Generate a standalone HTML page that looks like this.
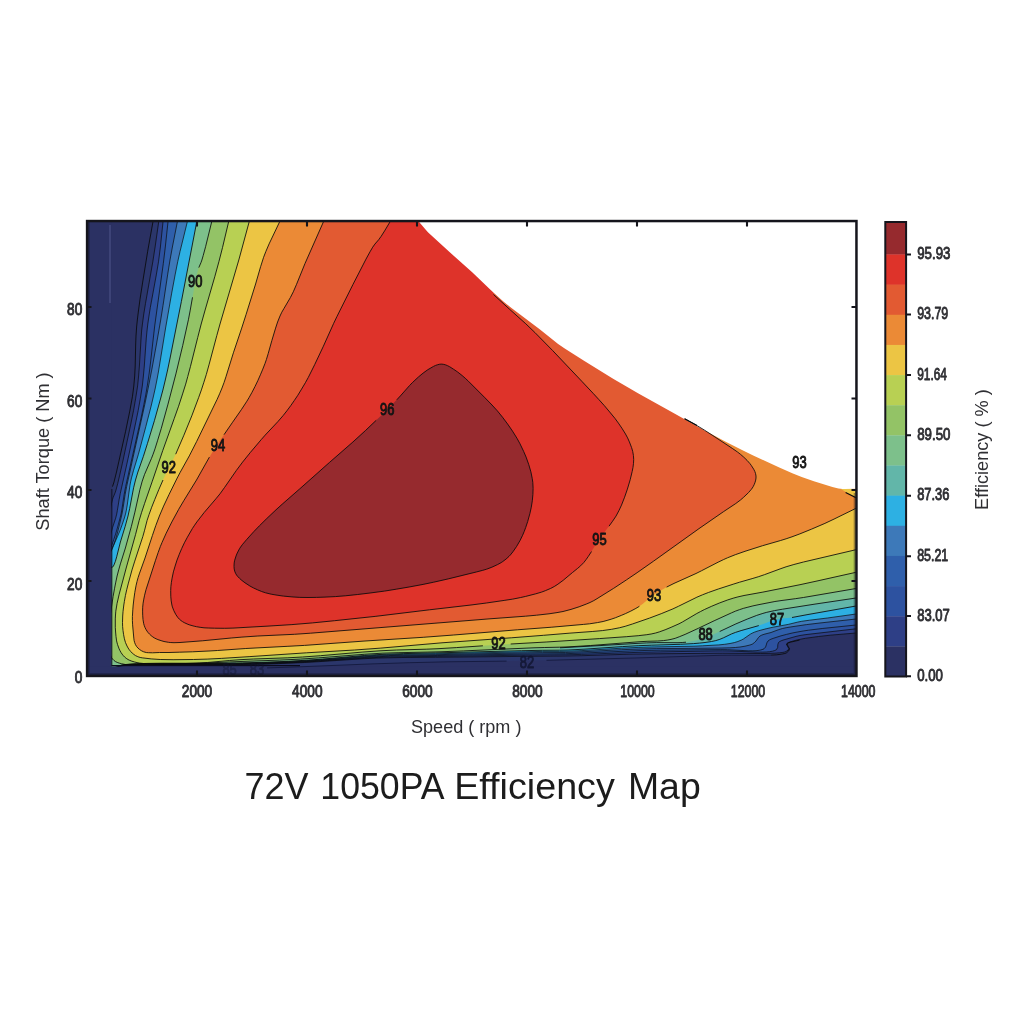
<!DOCTYPE html>
<html lang="en"><head><meta charset="utf-8"><title>72V 1050PA Efficiency Map</title>
<style>html,body{margin:0;padding:0;background:#fff}body{width:1024px;height:1024px;overflow:hidden}svg{display:block}</style>
</head><body>
<svg width="1024" height="1024" viewBox="0 0 1024 1024" font-family="'Liberation Sans', sans-serif">
<rect width="1024" height="1024" fill="#ffffff"/>
<defs><clipPath id="plot"><rect x="87" y="221" width="769" height="455"/></clipPath><clipPath id="data"><rect x="111.3" y="221" width="744.7" height="445.29999999999995"/></clipPath></defs>
<g clip-path="url(#plot)">
<rect x="87" y="221" width="769" height="455" fill="#2b3163"/>
<path d="M153.1 221.0L147.7 251.2 142.9 280.8 140.0 299.3 137.8 315.9 136.7 326.0 136.0 336.0 135.7 344.0 135.2 366.0 134.7 376.0 134.0 384.0 133.1 392.1 131.8 400.4 130.3 408.9 126.4 427.8 117.0 470.0 114.0 482.0 112.5 486.6 111.8 489.5 111.4 491.7 110.6 497.3 109.7 504.3 107.7 523.4 106.0 544.5 104.9 562.0 104.2 580.6 103.8 600.0 103.7 620.7 104.0 642.6 103.7 647.5 102.6 656.7 102.6 660.8 102.8 662.6 103.2 664.4 103.8 666.1 104.7 667.6 106.0 669.0 106.8 669.7 107.7 670.3 109.9 671.4 111.2 671.9 113.9 672.7 118.6 673.5 124.1 674.0 130.1 674.2 138.7 674.0 148.0 673.5 157.6 672.7 181.4 670.5 194.3 669.7 231.6 669.0 273.4 667.7 322.0 665.9 372.0 663.9 405.8 662.8 445.9 661.8 508.3 661.0 548.1 660.2 636.1 657.9 722.3 655.3 731.5 655.2 760.5 655.3 767.1 655.2 773.1 655.0 778.3 654.6 781.3 654.2 784.8 653.5 786.5 652.8 788.7 650.9 789.5 648.8 788.1 646.3 787.0 644.0 788.2 643.0 790.4 642.2 803.5 639.3 810.1 638.2 816.7 637.3 828.2 636.1 856.0 633.8 856.0 221.0Z" fill="#2b366b"/>
<path d="M158.8 221.0L155.1 247.0 152.8 261.8 145.5 303.4 143.8 313.8 142.7 322.0 141.7 330.0 141.1 338.0 139.4 366.0 138.6 376.0 137.6 386.0 135.7 398.2 133.5 410.7 131.0 423.1 122.4 463.3 119.5 476.0 117.7 483.6 116.0 490.0 115.3 492.3 113.1 497.6 112.5 499.5 111.5 503.3 110.7 507.7 109.6 514.6 107.7 528.7 106.4 542.1 105.3 555.6 104.7 565.7 104.2 577.9 103.8 593.0 103.7 610.2 103.7 626.3 104.0 642.6 103.5 655.4 103.4 659.9 103.7 663.8 104.0 665.5 104.5 666.9 105.1 668.1 106.0 669.0 107.3 669.6 108.7 669.8 110.3 669.5 112.1 669.0 118.6 666.7 121.2 666.0 125.2 665.5 132.0 665.1 143.9 664.7 157.9 664.6 229.0 664.9 240.0 664.8 257.3 664.4 278.7 663.6 304.4 662.5 318.4 661.7 364.2 658.7 376.1 658.1 388.3 657.8 401.9 657.5 435.6 657.3 530.7 656.3 565.6 656.0 581.7 655.7 629.6 654.2 653.9 653.8 700.3 653.4 722.3 653.2 760.3 653.5 768.9 653.4 774.6 653.2 779.5 652.8 782.2 652.5 784.4 652.1 786.0 651.5 788.1 650.1 788.8 648.4 787.4 646.2 786.3 644.0 787.5 642.9 789.7 642.0 797.3 639.9 801.2 639.1 805.4 638.3 818.5 636.5 830.3 635.2 856.0 633.0 856.0 221.0Z" fill="#2e3f86"/>
<path d="M163.1 221.0L160.4 247.0 158.5 261.8 156.3 274.9 150.3 307.6 149.0 315.9 147.8 324.0 147.1 330.0 146.3 338.0 144.3 366.0 143.4 376.0 142.3 386.0 140.4 398.2 138.2 410.5 134.8 426.9 128.1 458.4 120.3 493.4 119.1 499.7 117.4 510.3 116.7 514.1 115.7 518.1 112.5 527.7 108.4 542.4 106.5 550.6 105.7 555.2 105.0 560.0 104.5 564.9 104.0 572.2 103.7 580.3 103.5 588.9 103.4 611.2 104.0 642.6 103.5 655.4 103.4 659.9 103.7 663.9 104.0 665.5 104.5 666.9 105.1 668.1 106.0 669.0 107.3 669.6 108.7 669.8 110.3 669.5 112.1 668.9 118.6 666.5 121.2 665.9 125.2 665.3 133.5 664.8 145.8 664.4 160.0 664.3 229.0 664.6 240.0 664.4 259.3 663.9 280.6 663.2 304.4 662.1 320.5 661.1 364.2 658.1 378.1 657.4 390.3 657.0 405.7 656.7 437.8 656.4 532.4 655.1 565.6 654.8 581.7 654.4 621.0 652.9 640.0 652.3 664.1 651.8 718.0 650.9 722.5 650.9 729.5 651.0 756.1 652.1 762.4 652.1 766.2 652.0 769.6 651.7 772.5 651.2 774.8 650.5 776.5 649.6 777.7 647.4 777.8 644.7 778.5 642.5 779.9 641.4 781.8 640.5 784.0 639.8 796.0 636.4 800.0 635.5 805.9 634.6 856.0 628.8 856.0 221.0Z" fill="#2d52a0"/>
<path d="M168.1 221.0L165.3 247.0 163.3 263.6 154.7 326.0 150.6 362.0 149.1 374.0 147.6 384.0 145.9 394.1 143.9 404.4 141.3 416.9 125.7 486.3 124.2 494.3 121.8 510.0 121.1 514.0 120.1 517.9 117.4 528.0 115.6 534.1 113.7 539.8 111.8 545.0 110.9 547.0 107.3 553.6 106.4 555.4 105.7 557.5 105.0 560.0 104.3 564.0 103.8 568.9 103.4 574.4 103.1 580.5 103.0 589.3 103.0 598.5 103.1 610.1 104.0 642.6 103.4 657.8 103.5 662.0 103.7 663.9 104.0 665.5 104.5 667.0 105.1 668.1 106.0 669.0 107.3 669.6 108.7 669.7 110.3 669.4 118.6 666.4 121.2 665.7 125.2 665.1 133.5 664.6 145.8 664.2 160.0 664.0 214.4 664.3 230.9 664.2 242.3 664.0 263.3 663.4 284.4 662.6 306.4 661.5 320.5 660.6 364.2 657.5 378.1 656.7 390.3 656.2 403.8 655.9 437.8 655.5 530.7 654.0 565.6 653.7 581.7 653.1 629.6 651.0 644.0 650.5 660.3 650.2 720.3 649.6 727.4 649.7 748.2 650.8 752.3 650.8 756.0 650.7 759.2 650.3 760.6 650.0 763.0 649.3 764.0 648.8 765.6 647.0 766.3 644.9 766.9 642.8 768.0 641.0 769.5 639.9 771.2 639.1 773.1 638.4 780.8 635.9 786.5 634.4 792.8 632.9 797.5 632.0 803.2 631.0 808.5 630.2 822.2 628.5 856.0 625.0 856.0 221.0Z" fill="#2f5fab"/>
<path d="M177.5 221.0L172.4 247.0 170.0 260.0 167.6 274.9 163.0 305.6 160.7 320.0 156.5 344.0 152.1 368.0 148.2 388.0 144.8 404.4 126.7 486.3 125.2 494.2 123.1 507.9 122.0 513.9 119.6 524.2 117.4 533.0 115.6 539.4 113.7 545.2 111.8 550.0 110.7 552.0 109.5 553.4 107.0 556.1 105.9 557.7 105.0 560.0 104.7 561.1 103.9 565.0 103.3 569.8 103.0 575.4 102.7 581.6 102.6 588.3 102.7 597.6 102.9 607.1 104.0 640.0 104.0 645.2 103.4 657.8 103.5 662.0 103.7 663.9 104.0 665.5 104.5 667.0 105.1 668.1 106.0 669.0 107.3 669.6 108.7 669.7 110.3 669.4 118.6 666.3 121.2 665.5 124.0 665.1 127.7 664.7 138.5 664.1 149.7 663.9 164.4 663.8 227.0 663.9 238.3 663.8 251.1 663.4 278.7 662.5 304.4 661.2 320.5 660.2 366.2 656.7 378.1 656.0 390.3 655.5 403.8 655.2 435.6 654.7 527.2 652.9 542.5 652.6 565.6 652.5 580.0 651.9 621.7 649.7 640.0 649.0 656.7 648.6 688.9 648.4 721.9 648.0 729.9 647.8 735.3 647.5 740.0 647.0 745.0 646.2 749.2 645.2 751.0 644.7 752.5 644.0 754.4 642.6 756.0 641.0 758.4 637.6 760.0 636.0 761.8 635.1 764.0 634.3 771.0 632.5 778.5 629.7 782.4 628.5 786.2 627.7 790.3 627.0 806.5 624.6 819.9 623.0 856.0 619.0 856.0 221.0Z" fill="#3d79b9"/>
<path d="M187.5 221.0L180.0 251.6 177.7 261.8 175.1 274.9 171.7 293.1 165.6 328.0 158.4 372.0 156.9 380.0 155.3 388.0 153.5 396.0 151.1 406.2 145.8 426.7 138.4 454.3 133.6 470.2 131.5 477.9 130.6 481.9 129.9 485.7 127.4 504.0 126.4 510.1 125.5 514.1 124.4 518.0 122.3 524.3 120.0 530.6 117.4 536.7 114.9 542.3 111.8 548.8 110.6 550.9 107.0 555.6 105.9 557.5 105.0 560.0 104.2 563.7 103.6 568.4 103.2 573.8 102.9 579.8 102.7 588.6 102.9 607.3 104.0 642.6 103.4 657.8 103.5 662.0 103.7 663.9 104.0 665.6 104.5 667.0 105.1 668.1 106.0 669.0 107.3 669.6 108.7 669.7 110.3 669.3 118.6 666.1 121.2 665.4 124.0 664.9 126.4 664.6 136.8 664.0 147.7 663.6 162.2 663.5 229.0 663.5 240.0 663.4 261.3 662.7 284.4 661.8 306.4 660.7 322.6 659.5 364.2 656.2 376.1 655.4 388.3 654.8 403.8 654.4 435.6 653.8 525.4 651.8 542.5 651.4 559.6 651.4 568.0 651.2 581.9 650.6 621.6 648.2 638.1 647.4 654.9 646.9 693.9 646.2 702.5 645.8 718.8 644.9 724.7 644.3 730.0 643.5 734.3 642.6 737.9 641.5 741.5 640.0 743.4 639.0 750.6 634.0 752.5 633.0 754.4 632.2 758.4 630.8 766.8 628.6 773.1 627.2 788.3 624.4 797.7 622.1 801.7 621.3 809.6 620.2 827.5 618.0 856.0 614.0 856.0 221.0Z" fill="#2db0e3"/>
<path d="M196.9 221.0L181.4 301.4 170.1 358.0 167.6 370.0 165.3 380.0 162.9 390.0 160.2 400.0 154.4 420.7 147.4 443.7 143.3 456.6 137.9 472.0 135.5 480.0 133.6 487.8 129.7 508.4 128.0 516.0 125.2 526.3 120.4 542.0 116.7 556.8 115.4 561.3 114.0 564.9 113.3 566.2 112.6 567.1 111.8 567.5 110.5 566.8 109.0 564.9 107.5 562.5 106.2 560.6 105.0 560.0 104.7 560.2 104.1 561.3 103.6 563.1 103.2 565.6 102.7 570.4 102.5 576.4 102.4 583.2 102.5 593.2 102.7 603.7 104.0 640.0 104.0 645.2 103.4 657.8 103.5 662.1 103.7 663.9 104.0 665.6 104.5 667.0 105.1 668.1 106.0 669.0 107.3 669.6 108.7 669.6 110.3 669.3 118.6 666.0 121.2 665.2 124.0 664.7 126.4 664.4 136.7 663.7 147.7 663.4 162.2 663.2 214.4 663.3 230.9 663.2 246.8 662.8 269.2 662.1 288.3 661.3 308.4 660.1 322.6 659.1 364.2 655.5 376.1 654.7 386.2 654.2 403.8 653.6 435.6 652.9 521.6 650.7 542.5 650.3 559.6 650.2 568.0 650.0 584.0 649.2 622.3 646.6 638.2 645.7 651.3 645.2 682.0 644.2 697.7 643.3 703.2 642.7 711.6 641.5 715.8 640.6 718.0 640.0 721.8 638.5 731.6 633.9 735.5 632.4 741.1 630.6 758.8 625.6 771.1 621.1 775.0 619.9 777.0 619.4 781.5 618.6 790.1 617.8 794.0 617.2 805.3 615.0 856.0 606.0 856.0 221.0Z" fill="#62b6a9"/>
<path d="M196.9 221.0L181.4 301.4 170.1 358.0 167.6 370.0 165.3 380.0 162.9 390.0 160.2 400.0 154.4 420.7 147.4 443.7 143.3 456.6 137.9 472.0 135.5 480.0 133.6 487.8 129.7 508.4 128.0 516.0 125.2 526.3 120.4 542.0 116.7 556.8 115.4 561.3 114.0 564.9 113.3 566.2 112.6 567.1 111.8 567.5 110.5 566.8 109.0 564.9 107.5 562.5 106.2 560.6 105.0 560.0 104.7 560.2 104.1 561.3 103.6 563.1 103.2 565.6 102.7 570.4 102.5 576.4 102.4 583.2 102.5 593.2 102.7 603.7 104.0 640.0 104.0 645.2 103.4 657.8 103.5 662.1 103.7 663.9 104.0 665.6 104.5 667.0 105.1 668.1 106.0 669.0 107.3 669.6 108.7 669.6 110.3 669.3 118.6 666.0 121.2 665.2 124.0 664.7 126.4 664.4 136.7 663.7 147.7 663.4 162.2 663.2 214.4 663.3 230.9 663.2 249.0 662.7 273.0 661.9 290.3 661.2 308.4 660.1 322.6 659.1 362.1 655.7 374.2 654.8 384.2 654.3 403.8 653.6 435.6 652.9 521.6 650.7 542.5 650.3 559.6 650.2 560.0 647.8 600.0 645.6 635.0 643.5 646.6 642.9 656.8 642.6 675.8 642.7 680.1 642.6 684.1 642.4 690.6 641.6 694.9 640.7 701.1 639.2 706.9 637.3 710.6 635.8 734.0 624.7 741.5 621.4 750.9 617.5 756.7 615.4 762.9 613.4 766.8 612.3 774.5 610.6 782.5 609.2 815.0 604.1 856.0 598.0 856.0 221.0Z" fill="#7dc08b"/>
<path d="M211.9 221.0L205.7 246.3 203.2 255.6 201.9 260.0 201.1 262.3 198.8 267.6 198.0 270.0 197.0 274.1 194.8 284.6 189.3 315.4 187.1 325.9 183.1 343.6 179.4 359.7 175.4 376.0 171.8 390.0 166.9 408.3 162.9 422.7 159.4 434.6 156.1 445.5 153.9 452.0 152.3 456.3 149.9 462.1 146.1 470.8 143.9 476.1 142.6 480.0 141.5 483.8 139.0 493.8 134.5 514.1 130.3 530.3 125.4 548.0 119.8 565.9 117.6 574.0 115.4 584.1 113.1 596.5 109.2 622.0 108.4 628.4 108.0 634.4 108.0 640.0 108.6 647.3 109.4 651.8 110.0 653.9 110.7 655.8 111.5 657.5 112.5 659.0 113.9 660.4 115.5 661.6 117.2 662.4 119.2 663.1 124.0 664.3 128.1 664.9 133.1 665.3 138.7 665.4 149.2 665.2 173.7 664.2 195.8 663.5 240.0 661.5 277.8 660.1 296.2 659.3 316.4 658.1 364.2 654.3 374.2 653.6 384.2 653.1 398.1 652.7 427.1 652.1 440.0 651.8 463.6 650.9 534.0 647.8 544.8 647.5 559.6 647.2 568.0 646.9 590.6 645.5 640.0 641.7 647.1 641.3 657.6 641.0 663.4 640.6 667.2 640.1 671.0 639.4 675.2 638.3 679.2 636.8 685.1 634.4 698.6 628.2 714.1 620.8 731.4 612.9 735.3 611.2 739.4 609.7 743.3 608.4 747.1 607.4 752.9 605.9 759.0 604.6 774.9 601.5 781.0 600.6 795.3 598.7 803.4 597.5 856.0 588.5 856.0 221.0Z" fill="#93c366"/>
<path d="M228.8 221.0L222.5 247.6 218.9 261.7 214.9 276.3 205.1 310.1 201.2 324.0 197.7 337.6 190.4 366.7 186.2 382.2 182.6 393.9 178.6 406.2 174.2 418.6 162.8 450.4 152.1 481.8 144.6 503.4 141.0 514.4 139.2 520.4 135.1 536.3 126.2 568.0 120.2 590.2 118.7 596.1 117.4 601.6 116.1 609.3 115.5 615.0 115.3 618.9 115.3 623.0 115.6 632.0 116.3 638.7 117.1 642.9 117.6 644.7 119.1 648.8 120.0 650.7 121.0 652.5 122.1 654.1 123.3 655.6 124.6 657.0 126.2 658.3 128.0 659.5 129.8 660.4 131.9 661.2 134.3 661.9 137.0 662.6 141.3 663.3 146.4 663.8 152.1 664.1 160.5 664.2 173.9 663.9 197.2 663.1 207.4 662.5 229.4 660.5 240.0 659.7 253.4 659.0 287.8 657.8 302.5 657.0 318.4 655.8 358.0 652.4 376.1 651.0 392.5 650.2 430.1 649.0 448.1 648.1 498.2 644.7 542.1 642.3 605.5 638.2 632.4 636.3 638.2 635.7 646.8 634.7 651.1 634.0 653.3 633.6 657.4 632.5 663.1 630.5 669.1 628.2 675.1 625.6 680.8 622.8 686.1 619.9 695.0 614.6 698.7 612.5 706.1 608.8 713.8 605.4 721.7 602.1 727.8 599.9 733.8 598.0 737.9 596.9 744.0 595.5 762.9 592.1 800.0 584.7 817.0 581.0 856.0 572.3 856.0 221.0Z" fill="#b8d053"/>
<path d="M249.4 221.0L238.8 260.0 220.0 324.0 216.8 335.6 208.5 366.7 205.7 376.4 202.6 386.1 198.6 397.7 194.1 409.7 188.6 423.7 183.2 437.0 178.0 448.9 174.7 456.3 171.9 462.1 165.7 474.3 163.0 480.0 158.9 489.4 155.6 497.4 150.3 510.9 148.5 516.0 147.1 520.4 144.6 530.2 142.9 536.3 134.5 561.9 131.4 571.9 128.7 581.9 126.7 589.8 125.4 595.6 124.4 601.3 123.2 609.5 122.8 613.9 122.5 618.2 122.5 624.4 123.0 630.5 124.0 636.8 124.9 640.7 125.5 642.6 127.0 646.0 128.1 648.0 129.3 649.8 130.7 651.5 132.2 653.1 133.8 654.4 135.5 655.6 137.2 656.4 138.9 657.1 140.8 657.6 144.8 658.2 154.5 659.2 162.3 659.6 173.1 659.7 197.3 659.4 207.2 659.1 217.2 658.6 253.8 656.4 304.5 652.9 346.4 650.5 362.9 649.4 382.8 647.9 440.0 643.0 513.2 637.6 545.5 635.1 569.1 633.2 592.2 631.5 602.3 630.6 611.6 629.3 619.3 627.8 625.2 626.3 632.4 624.0 649.5 618.1 661.2 613.7 672.9 608.9 678.4 606.3 696.9 597.2 702.5 594.8 708.4 592.5 718.3 589.0 733.8 584.0 739.6 582.2 752.9 578.4 758.8 576.6 764.4 574.7 780.1 568.9 786.1 566.8 793.9 564.5 803.5 562.0 856.0 549.7 856.0 221.0Z" fill="#ecc544"/>
<path d="M280.0 221.0L269.1 243.9 265.8 251.6 263.6 257.3 260.6 266.7 255.6 284.0 246.1 314.4 241.7 328.1 233.4 352.8 226.0 376.6 224.1 382.4 222.0 388.0 219.6 393.8 217.1 399.4 196.7 441.4 189.3 455.9 180.2 472.3 177.2 478.0 169.0 494.6 163.6 506.1 159.4 516.0 155.8 525.5 152.4 535.5 145.0 558.0 139.9 572.0 138.1 577.6 136.5 583.6 135.6 588.0 134.8 592.4 133.4 603.0 132.6 612.1 132.4 618.6 132.5 622.8 132.7 626.8 133.8 638.1 134.1 640.5 134.7 642.7 135.5 644.7 136.6 646.5 138.0 648.1 139.6 649.5 141.4 650.7 143.4 651.7 145.0 652.2 146.7 652.6 150.6 652.8 159.5 652.5 169.0 652.5 179.2 652.2 207.1 651.1 217.4 650.5 245.8 648.5 290.0 646.2 310.5 645.0 363.0 641.1 416.8 637.7 447.4 635.5 515.0 630.0 555.6 626.9 587.6 624.0 593.5 623.3 599.3 622.3 603.1 621.5 607.1 620.4 611.2 619.2 615.3 617.8 623.3 614.6 630.8 611.1 635.9 608.4 639.4 606.3 642.9 603.8 650.6 597.3 653.8 595.0 659.2 591.5 664.6 588.2 668.8 586.0 674.0 583.4 691.9 575.4 697.8 572.6 716.2 563.1 725.6 558.6 729.4 557.0 735.3 554.7 745.0 551.3 762.6 545.7 780.3 540.6 786.1 538.8 792.0 536.8 799.8 533.9 811.4 529.2 824.9 523.4 834.0 519.1 856.0 508.3 856.0 221.0Z" fill="#eb8a36"/>
<path d="M323.8 221.0L305.0 263.5 296.4 284.7 293.3 291.8 290.4 297.5 283.9 308.6 281.8 312.2 280.0 316.0 279.2 318.0 277.6 322.0 275.6 328.1 271.4 342.2 267.7 355.6 265.7 361.5 263.6 367.2 260.4 374.8 257.8 380.7 255.0 386.5 250.0 396.0 248.0 399.5 244.8 404.6 241.4 409.6 232.2 422.8 219.3 441.6 212.5 452.0 208.4 458.9 196.5 480.0 180.7 505.8 173.8 518.3 169.9 525.7 167.1 531.3 164.5 536.9 162.0 542.5 160.4 546.4 158.2 552.4 155.5 560.3 147.2 585.8 145.5 591.5 144.6 595.2 143.8 599.1 143.1 603.2 142.6 609.1 142.7 615.2 143.0 619.5 143.3 621.6 143.7 623.7 144.3 625.7 145.0 627.5 145.9 629.3 147.0 631.1 148.2 632.7 149.6 634.2 151.1 635.6 152.8 636.9 154.3 637.9 156.1 638.8 157.9 639.6 161.9 640.9 164.0 641.5 168.4 642.3 170.2 642.5 174.0 642.7 180.0 642.5 200.5 641.0 233.4 637.8 245.9 636.8 259.8 635.9 294.3 634.3 314.5 632.9 363.0 628.9 490.0 618.8 527.4 616.0 538.3 615.0 551.1 613.5 559.0 612.3 565.0 611.0 571.0 609.4 577.1 607.5 584.9 604.7 590.0 602.5 592.0 601.5 595.4 599.7 608.5 591.5 624.7 581.0 640.4 570.5 666.7 551.8 698.9 528.7 723.3 511.8 735.8 503.5 740.6 499.9 743.7 497.2 747.0 494.2 749.9 491.1 751.2 489.5 752.3 488.0 753.3 486.4 754.3 484.3 755.1 482.2 755.7 480.1 756.0 478.0 756.0 476.0 755.6 473.7 754.8 471.4 753.7 469.2 751.2 465.3 748.6 462.0 747.1 460.4 743.8 457.2 740.6 454.4 735.8 450.8 712.9 435.6 704.3 430.0 697.3 425.8 684.6 418.7 700.0 221.0Z" fill="#e25a32"/>
<path d="M390.5 221.0L384.6 230.9 381.1 236.4 378.7 239.7 374.9 244.1 372.7 247.2 370.0 251.8 366.0 259.1 352.9 284.6 337.0 316.4 333.7 323.3 323.4 346.2 314.7 364.6 311.0 372.0 308.3 377.4 305.4 382.7 298.9 393.5 295.5 398.8 291.9 403.9 288.2 409.1 284.4 414.0 281.8 417.1 277.8 421.7 265.2 435.1 261.3 439.5 254.4 447.6 247.8 455.6 242.6 462.1 237.6 468.7 224.6 487.4 220.0 493.8 214.6 500.4 205.3 511.1 198.0 520.4 195.7 523.5 193.4 527.0 190.4 531.8 187.4 537.2 184.4 542.8 182.6 546.6 179.3 554.2 177.0 560.1 175.7 564.1 173.4 571.9 172.5 575.9 171.7 580.2 171.1 584.3 170.8 588.5 170.7 592.5 170.8 596.7 171.2 600.9 171.5 603.0 172.4 606.9 173.0 608.8 174.7 612.5 175.7 614.3 176.8 616.0 178.0 617.7 179.4 619.2 180.9 620.5 182.5 621.6 184.2 622.6 186.0 623.5 187.9 624.3 192.1 625.6 198.2 627.0 204.0 627.8 212.5 628.2 226.9 628.3 232.9 628.1 263.8 626.4 283.2 625.2 298.3 624.1 312.5 622.9 328.6 621.4 367.0 617.3 387.2 614.9 429.5 609.8 469.0 605.2 486.4 603.0 506.9 600.0 516.6 598.4 525.7 596.4 535.8 593.8 541.6 592.1 547.2 590.0 552.5 587.5 556.2 585.4 559.7 582.9 563.2 580.3 572.5 572.5 577.6 568.4 580.6 565.8 583.8 562.5 587.1 558.2 590.4 553.3 595.9 544.3 599.4 539.0 602.9 534.2 610.2 524.6 613.8 519.6 616.0 516.1 618.0 512.5 620.6 507.0 623.1 501.2 625.4 495.1 628.0 487.2 630.2 479.7 631.7 473.6 632.6 469.3 633.3 465.3 633.6 461.3 633.7 459.4 633.4 455.4 633.1 453.4 632.2 449.5 630.9 445.7 628.5 439.9 626.6 436.0 623.1 430.2 619.5 424.7 616.1 419.9 611.1 413.6 605.7 407.2 600.3 401.1 583.2 382.8 554.0 352.0 536.4 334.0 530.3 328.1 525.8 323.8 509.3 309.0 493.5 294.5 500.0 221.0Z" fill="#de332a"/>
<path d="M441.9 364.1L443.8 364.4 445.7 364.9 447.6 365.7 449.6 366.7 453.5 369.2 457.5 371.9 460.5 374.2 465.2 378.2 470.0 382.7 486.4 399.2 492.0 405.0 497.4 410.9 501.2 415.6 506.4 422.3 511.3 429.3 514.8 434.7 518.0 440.1 520.9 445.6 523.6 451.3 526.1 457.1 528.2 462.8 530.0 468.4 531.4 474.1 532.2 478.3 532.8 482.3 533.1 486.3 533.0 492.6 532.8 496.6 532.0 502.9 530.9 509.3 529.4 515.6 527.7 521.5 525.7 527.5 523.4 533.4 520.9 538.9 518.9 542.5 516.7 546.3 513.0 551.7 510.4 554.9 509.0 556.4 506.0 559.1 502.8 561.5 501.2 562.6 497.7 564.5 493.9 566.3 490.2 567.9 484.7 569.8 476.7 571.9 450.2 578.4 437.9 581.3 423.1 584.4 405.0 587.8 394.8 589.5 384.5 591.1 374.2 592.5 361.8 594.0 351.5 595.2 343.3 595.9 335.3 596.6 327.2 597.0 314.3 597.5 308.0 597.5 301.8 597.4 291.9 596.9 281.3 595.8 273.1 594.6 269.3 593.7 265.5 592.8 259.6 590.7 253.6 588.0 249.9 586.0 246.5 583.9 243.1 581.4 241.2 579.9 239.5 578.3 237.9 576.7 236.6 575.1 235.6 573.4 234.7 571.2 234.2 568.9 234.0 566.5 234.1 564.0 234.3 562.1 235.3 558.1 236.0 556.1 237.7 552.0 238.8 550.0 240.9 546.5 242.2 544.8 245.0 541.4 255.1 530.2 259.3 525.9 265.3 520.0 274.6 511.1 280.6 505.6 299.7 488.9 329.4 462.5 351.4 443.3 368.5 427.6 380.7 416.0 392.6 404.1 399.6 396.8 410.9 384.1 415.3 379.8 421.5 374.3 424.7 371.8 427.8 369.7 433.5 366.4 435.6 365.4 437.7 364.7 439.8 364.2Z" fill="#962a2e"/>
<path d="M840.5 488.8H856V498Z" fill="#ecc544"/>
<rect x="87" y="221" width="24.799999999999997" height="455" fill="#2b3163"/>
<rect x="87" y="666.3" width="769" height="9.700000000000045" fill="#2b3163"/>
<rect x="109.6" y="225" width="0.8" height="78" fill="#5a6096"/>
<path d="M418.3 221.0L425.3 229.3 428.2 232.4 431.2 235.2 448.7 251.3 472.2 272.3 476.9 276.7 489.4 288.8 497.2 296.0 503.4 301.5 506.7 304.2 511.8 308.2 540.0 329.4 553.1 340.1 558.1 344.0 565.1 348.8 584.8 361.2 613.1 378.7 627.3 387.1 638.0 393.3 675.3 414.1 704.7 430.6 725.2 441.5 742.0 450.1 753.2 455.4 779.3 467.6 792.3 473.2 801.7 476.9 813.9 481.2 832.4 487.0 836.4 488.1 838.5 488.5 842.7 489.0 844.9 489.1 856.0 488.8 856.0 221.0Z" fill="#ffffff"/>
<path d="M267.1 667.9L299.7 666.8 372.0 663.9 409.7 662.7 447.9 661.8 506.6 661.1 M546.5 660.3L638.1 657.9 720.1 655.3 731.5 655.2 760.5 655.3 771.2 655.1" fill="none" stroke="#0c1030" stroke-opacity="0.75" stroke-width="0.9"/>
<g clip-path="url(#data)" fill="none" stroke="#0a0a0a" stroke-linejoin="round">
<path d="M196.9 221.0L181.4 301.4 170.1 358.0 167.6 370.0 165.3 380.0 162.9 390.0 160.2 400.0 154.4 420.7 147.4 443.7 143.3 456.6 137.9 472.0 135.5 480.0 133.6 487.8 129.7 508.4 128.0 516.0 125.2 526.3 120.4 542.0 116.7 556.8 115.4 561.3 114.0 564.9 113.3 566.2 112.6 567.1 111.8 567.5 110.5 566.8 109.0 564.9 107.5 562.5 106.2 560.6 105.0 560.0 104.7 560.2 104.1 561.3 103.6 563.1 103.2 565.6 102.7 570.4 102.5 576.4 102.4 583.2 102.5 593.2 102.7 603.7 104.0 640.0 104.0 645.2 103.5 655.4 103.4 660.0 103.7 663.9 104.0 665.6 104.5 667.0 105.1 668.1 106.0 669.0 107.3 669.6 108.7 669.6 110.3 669.3 118.6 666.0 121.2 665.2 124.0 664.7 129.0 664.2 136.7 663.7 147.7 663.4 162.2 663.2 214.4 663.3 230.9 663.2 242.3 662.9 267.2 662.2 288.3 661.3 308.4 660.1 322.6 659.1 364.2 655.5 376.1 654.7 386.2 654.2 403.8 653.6 435.6 652.9 521.6 650.7 542.5 650.3 559.6 650.2 568.0 650.0 584.0 649.2 622.3 646.6 638.2 645.7 651.3 645.2 680.3 644.3 693.7 643.6 699.5 643.1 705.0 642.5 711.6 641.5 715.8 640.6 719.9 639.3 723.7 637.7 731.6 633.9 735.5 632.4 741.1 630.6 758.8 625.6 M792.0 617.5L807.0 614.7 856.0 606.0 M211.9 221.0L205.7 246.3 203.2 255.6 201.9 260.0 201.1 262.3 198.8 267.6 M192.5 297.3L190.1 310.9 188.4 319.8 182.7 345.6 175.9 373.9 168.0 404.1 161.2 428.7 157.7 440.2 155.0 448.8 153.1 454.2 151.5 458.3 144.6 474.3 143.3 478.0 142.0 481.9 139.9 489.7 134.9 512.1 131.4 526.3 125.4 548.0 120.4 563.9 118.7 569.9 117.1 576.0 115.8 582.1 114.6 588.2 113.1 596.5 109.2 622.0 108.2 630.4 108.0 634.4 107.9 638.2 108.4 644.9 109.0 649.6 109.4 651.8 110.0 653.9 110.7 655.8 111.5 657.5 112.5 659.0 113.9 660.4 115.5 661.6 117.2 662.4 119.2 663.1 121.4 663.7 126.7 664.8 131.4 665.2 136.8 665.4 142.8 665.4 149.2 665.2 173.7 664.2 195.8 663.5 238.0 661.6 279.8 660.1 300.4 659.1 318.4 657.9 364.2 654.3 382.1 653.2 398.1 652.7 427.1 652.1 440.0 651.8 463.6 650.9 534.0 647.8 544.8 647.5 559.6 647.2 568.0 646.9 590.6 645.5 640.0 641.7 647.1 641.3 657.6 641.0 663.4 640.6 667.2 640.1 671.0 639.4 675.2 638.3 679.2 636.8 685.1 634.4 698.6 628.2 714.1 620.8 731.4 612.9 735.3 611.2 739.4 609.7 743.3 608.4 747.1 607.4 752.9 605.9 759.0 604.6 774.9 601.5 781.0 600.6 795.3 598.7 803.4 597.5 856.0 588.5 M560.0 647.8L600.0 645.6 635.0 643.5 646.6 642.9 656.8 642.6 678.0 642.7 682.2 642.5 686.0 642.2 M719.7 631.5L735.9 623.9 747.2 619.1 756.7 615.4 762.9 613.4 766.8 612.3 774.5 610.6 782.5 609.2 815.0 604.1 856.0 598.0 M228.8 221.0L222.5 247.6 218.9 261.7 214.9 276.3 205.1 310.1 201.2 324.0 197.7 337.6 190.4 366.7 187.8 376.4 185.7 384.1 182.6 393.9 178.6 406.2 174.2 418.6 162.8 450.4 152.1 481.8 144.6 503.4 141.5 512.7 139.2 520.4 135.5 534.7 126.2 568.0 119.2 594.2 117.1 603.3 115.8 611.2 115.5 615.0 115.3 618.9 115.3 627.4 115.6 632.0 116.0 636.5 116.6 640.9 117.1 642.9 117.6 644.7 119.1 648.8 120.0 650.7 121.0 652.5 122.1 654.1 123.3 655.6 124.6 657.0 126.2 658.3 128.0 659.5 129.8 660.4 131.9 661.2 134.3 661.9 137.0 662.6 139.7 663.1 146.4 663.8 156.2 664.1 167.2 664.1 180.6 663.7 199.3 663.0 207.4 662.5 229.4 660.5 240.0 659.7 253.4 659.0 287.8 657.8 302.5 657.0 320.5 655.7 362.1 652.1 380.0 650.8 396.5 650.0 426.2 649.2 438.0 648.7 456.3 647.6 482.9 645.8 M510.7 644.0L546.2 642.0 599.3 638.6 626.3 636.7 638.2 635.7 646.8 634.7 651.1 634.0 655.6 633.0 659.3 631.9 665.1 629.8 671.1 627.3 679.0 623.8 682.6 621.9 696.8 613.5 700.6 611.5 704.3 609.6 711.8 606.2 719.7 602.9 727.8 599.9 733.8 598.0 737.9 596.9 744.0 595.5 762.9 592.1 800.0 584.7 817.0 581.0 856.0 572.3 M249.4 221.0L238.8 260.0 220.0 324.0 216.8 335.6 209.0 364.8 206.3 374.5 203.9 382.2 201.4 389.9 198.6 397.7 191.8 415.8 183.9 435.2 175.7 454.2 M163.0 480.0L158.9 489.4 154.8 499.4 151.7 507.2 149.1 514.4 147.1 520.4 144.6 530.2 142.9 536.3 134.5 561.9 132.0 569.9 128.2 583.9 126.7 589.8 125.4 595.6 124.4 601.3 123.8 605.0 123.0 611.7 122.7 616.0 122.5 622.4 122.6 626.4 123.0 630.5 123.6 634.7 124.4 638.8 125.5 642.6 127.0 646.0 128.1 648.0 129.3 649.8 130.7 651.5 132.2 653.1 133.8 654.4 135.5 655.6 137.2 656.4 138.9 657.1 140.8 657.6 142.7 657.9 151.2 658.9 160.2 659.5 173.1 659.7 193.4 659.5 207.2 659.1 221.3 658.4 249.9 656.6 306.5 652.8 354.6 650.0 380.8 648.1 442.0 642.8 511.3 637.8 543.6 635.3 569.1 633.2 592.2 631.5 602.3 630.6 611.6 629.3 619.3 627.8 625.2 626.3 632.4 624.0 649.5 618.1 661.2 613.7 672.9 608.9 678.4 606.3 696.9 597.2 702.5 594.8 708.4 592.5 718.3 589.0 733.8 584.0 739.6 582.2 752.9 578.4 758.8 576.6 764.4 574.7 780.1 568.9 786.1 566.8 793.9 564.5 803.5 562.0 856.0 549.7 M280.0 221.0L269.1 243.9 265.8 251.6 263.6 257.3 260.6 266.7 255.6 284.0 246.1 314.4 241.7 328.1 233.4 352.8 226.0 376.6 224.1 382.4 222.0 388.0 219.6 393.8 217.1 399.4 196.7 441.4 189.3 455.9 180.2 472.3 177.2 478.0 169.0 494.6 163.6 506.1 159.4 516.0 155.8 525.5 152.4 535.5 145.0 558.0 139.3 573.9 138.1 577.6 137.0 581.5 136.0 585.8 134.8 592.4 133.9 598.9 133.2 605.0 132.8 609.8 132.4 616.5 132.4 620.6 132.6 624.8 133.8 638.1 134.1 640.5 134.7 642.7 135.5 644.7 136.6 646.5 138.0 648.1 139.6 649.5 141.4 650.7 143.4 651.7 145.0 652.2 146.7 652.6 148.6 652.7 152.6 652.8 159.5 652.5 169.0 652.5 179.2 652.2 192.3 651.8 209.0 651.0 217.4 650.5 245.8 648.5 287.9 646.3 304.5 645.4 365.0 641.0 423.2 637.3 453.7 635.0 517.3 629.8 551.8 627.2 583.6 624.4 589.6 623.8 597.4 622.6 603.1 621.5 607.1 620.4 611.2 619.2 615.3 617.8 621.3 615.4 625.3 613.7 630.8 611.1 635.9 608.4 639.4 606.3 M666.6 587.1L674.0 583.4 696.0 573.5 701.4 570.8 718.1 562.2 723.7 559.5 727.5 557.8 735.3 554.7 745.0 551.3 762.6 545.7 780.3 540.6 786.1 538.8 792.0 536.8 799.8 533.9 811.4 529.2 824.9 523.4 834.0 519.1 856.0 508.3 M323.8 221.0L305.0 263.5 296.4 284.7 293.3 291.8 290.4 297.5 283.9 308.6 281.8 312.2 280.0 316.0 279.2 318.0 277.6 322.0 275.6 328.1 271.9 340.4 268.2 353.6 266.4 359.5 265.0 363.5 262.8 369.1 260.4 374.8 257.8 380.7 255.0 386.5 252.0 392.3 249.0 397.7 246.9 401.2 241.4 409.6 232.2 422.8 224.0 434.7 M209.4 457.1L196.5 480.0 183.9 500.5 178.7 509.3 171.8 522.0 166.2 533.2 162.0 542.5 160.4 546.4 158.2 552.4 155.5 560.3 146.0 589.7 144.6 595.2 143.8 599.1 143.1 603.2 142.7 607.2 142.6 611.1 142.7 615.2 143.0 619.5 143.7 623.7 144.3 625.7 145.0 627.5 145.9 629.3 147.0 631.1 148.2 632.7 149.6 634.2 151.1 635.6 152.8 636.9 154.3 637.9 156.1 638.8 157.9 639.6 161.9 640.9 164.0 641.5 168.4 642.3 170.2 642.5 174.0 642.7 180.0 642.5 202.3 640.8 231.2 638.0 241.9 637.1 257.8 636.0 294.3 634.3 310.5 633.2 490.0 618.8 525.5 616.2 536.6 615.2 549.0 613.8 557.0 612.6 563.0 611.5 571.0 609.4 579.1 606.8 586.7 603.9 590.0 602.5 593.8 600.6 597.0 598.7 613.7 588.3 626.6 579.8 637.1 572.7 653.5 561.2 698.9 528.7 723.3 511.8 735.8 503.5 740.6 499.9 743.7 497.2 748.5 492.6 751.2 489.5 752.3 488.0 753.3 486.4 754.3 484.3 755.1 482.2 755.7 480.1 756.0 478.0 756.0 476.0 755.6 473.7 754.8 471.4 753.7 469.2 751.2 465.3 750.0 463.7 747.1 460.4 743.8 457.2 740.6 454.4 737.5 452.0 732.3 448.4 712.9 435.6 704.3 430.0 697.3 425.8 684.6 418.7 M390.5 221.0L384.6 230.9 381.1 236.4 378.7 239.7 374.9 244.1 372.7 247.2 370.0 251.8 366.0 259.1 352.9 284.6 337.0 316.4 333.7 323.3 323.4 346.2 314.7 364.6 311.0 372.0 308.3 377.4 305.4 382.7 301.1 389.9 297.8 395.3 294.3 400.5 290.7 405.7 286.9 410.8 283.1 415.6 277.8 421.7 265.2 435.1 261.3 439.5 250.4 452.4 242.6 462.1 236.4 470.4 224.6 487.4 220.0 493.8 215.9 498.8 204.1 512.6 196.9 521.9 194.6 525.2 192.4 528.5 187.4 537.2 184.4 542.8 181.7 548.5 179.3 554.2 177.0 560.1 175.1 566.1 173.4 571.9 172.1 578.1 171.4 582.3 170.9 586.4 170.7 590.5 170.8 596.7 171.2 600.9 171.9 605.0 172.4 606.9 173.8 610.6 175.7 614.3 176.8 616.0 178.0 617.7 179.4 619.2 180.9 620.5 182.5 621.6 184.2 622.6 187.9 624.3 189.9 625.0 194.2 626.2 196.5 626.7 200.1 627.3 204.0 627.8 208.2 628.0 214.6 628.2 224.6 628.3 232.9 628.1 268.0 626.1 291.9 624.6 312.5 622.9 334.6 620.7 375.1 616.4 429.5 609.8 471.0 605.0 486.4 603.0 504.9 600.3 512.8 599.1 520.3 597.6 525.7 596.4 535.8 593.8 541.6 592.1 545.3 590.7 550.7 588.4 554.3 586.5 557.9 584.2 563.2 580.3 572.5 572.5 577.6 568.4 580.6 565.8 583.8 562.5 586.0 559.7 588.2 556.6 591.5 551.5 M609.0 526.2L612.6 521.2 616.0 516.1 618.9 510.7 621.5 505.1 624.6 497.2 627.4 489.1 630.2 479.7 632.2 471.4 633.0 467.3 633.5 463.3 633.7 459.4 633.4 455.4 632.7 451.4 631.6 447.6 629.4 441.9 627.6 437.9 625.5 434.0 621.9 428.2 618.4 423.1 614.9 418.3 609.7 412.0 604.4 405.7 598.9 399.6 593.1 393.3 581.8 381.3 552.6 350.5 534.9 332.5 525.8 323.8 509.3 309.0 493.5 294.5 M441.9 364.1L443.8 364.4 445.7 364.9 447.6 365.7 449.6 366.7 453.5 369.2 457.5 371.9 462.1 375.5 465.2 378.2 468.4 381.2 485.0 397.8 492.0 405.0 497.4 410.9 502.5 417.2 507.6 424.0 512.5 431.1 517.0 438.3 520.0 443.8 523.6 451.3 526.1 457.1 528.8 464.7 530.9 471.9 532.2 478.3 532.8 482.3 533.1 488.4 532.9 494.6 532.3 500.8 531.3 507.2 529.9 513.5 527.7 521.5 525.7 527.5 524.2 531.5 522.6 535.3 520.0 540.6 516.7 546.3 513.0 551.7 510.4 554.9 509.0 556.4 506.0 559.1 502.8 561.5 501.2 562.6 497.7 564.5 491.9 567.2 486.6 569.2 482.8 570.3 476.7 571.9 448.2 578.9 433.7 582.2 423.1 584.4 409.1 587.0 396.8 589.1 384.5 591.1 370.1 593.0 357.7 594.5 345.3 595.8 335.3 596.6 325.0 597.1 316.4 597.4 308.0 597.5 299.8 597.4 291.9 596.9 283.4 596.1 277.1 595.2 271.2 594.2 265.5 592.8 261.6 591.5 257.5 589.8 253.6 588.0 249.9 586.0 245.0 582.8 241.2 579.9 239.5 578.3 237.9 576.7 236.6 575.1 235.6 573.4 234.7 571.2 234.2 568.9 234.0 566.5 234.1 564.0 234.3 562.1 234.7 560.2 236.0 556.1 236.8 554.0 238.8 550.0 239.8 548.2 242.2 544.8 246.5 539.7 253.8 531.6 259.3 525.9 266.8 518.5 276.0 509.8 282.2 504.2 299.7 488.9 329.4 462.5 352.9 442.0 365.5 430.5 376.2 420.3 M396.8 399.8L401.1 395.1 409.5 385.6 412.3 382.7 418.4 377.0 423.1 373.1 427.8 369.7 433.5 366.4 435.6 365.4 437.7 364.7 439.8 364.2 441.9 364.1 M153.1 221.0L147.7 251.2 142.9 280.8 140.0 299.3 137.8 315.9 136.7 326.0 136.0 336.0 135.7 344.0 135.2 366.0 134.7 376.0 133.8 386.0 132.5 396.2 129.8 411.0 125.5 431.8 118.9 461.3 116.5 472.0 114.0 482.0 112.5 486.6 M771.2 655.1L776.7 654.8 781.3 654.2 784.8 653.5 786.5 652.8 788.7 650.9 789.5 648.8 788.1 646.3 787.0 644.0 788.2 643.0 790.4 642.2 799.6 640.1" stroke-width="0.85"/>
<path d="M158.8 221.0L155.1 247.0 152.8 261.8 145.5 303.4 143.8 313.8 142.7 322.0 141.7 330.0 141.1 338.0 139.4 366.0 138.6 376.0 137.6 386.0 135.7 398.2 133.5 410.7 131.0 423.1 122.4 463.3 119.5 476.0 117.7 483.6 116.0 490.0 115.3 492.3 113.1 497.6 112.5 499.5 111.5 503.3 109.8 512.7 108.0 526.6 106.2 544.4 104.9 561.9 104.2 577.9 103.8 595.1 103.7 618.5 104.0 642.6 103.5 655.4 103.4 659.9 103.7 663.8 104.0 665.5 104.5 666.9 105.1 668.1 106.0 669.0 107.3 669.6 108.7 669.8 110.3 669.5 112.1 669.0 118.6 666.7 121.2 666.0 125.2 665.5 133.5 665.0 145.8 664.7 160.0 664.6 212.2 664.9 229.0 664.9 240.0 664.8 257.3 664.4 278.7 663.6 304.4 662.5 318.4 661.7 364.2 658.7 376.1 658.1 388.3 657.8 401.9 657.5 435.6 657.3 530.7 656.3 565.6 656.0 581.7 655.7 629.6 654.2 653.9 653.8 700.3 653.4 722.3 653.2 760.3 653.5 768.9 653.4 774.6 653.2 779.5 652.8 782.2 652.5 784.4 652.1 786.0 651.5 788.1 650.1 788.8 648.4 787.4 646.2 786.3 644.0 787.5 642.9 789.7 642.0 797.3 639.9 801.2 639.1 805.4 638.3 818.5 636.5 830.3 635.2 856.0 633.0 M163.1 221.0L160.4 247.0 158.5 261.8 156.3 274.9 150.3 307.6 149.0 315.9 147.8 324.0 147.1 330.0 146.3 338.0 144.3 366.0 143.4 376.0 142.3 386.0 140.4 398.2 138.2 410.5 134.8 426.9 128.1 458.4 120.3 493.4 119.1 499.7 117.4 510.3 116.7 514.1 115.7 518.1 112.5 527.7 108.4 542.4 106.5 550.6 105.7 555.2 105.0 560.0 104.5 564.9 104.0 572.2 103.7 580.3 103.5 588.9 103.4 611.2 104.0 642.6 103.5 655.4 103.4 659.9 103.7 663.9 104.0 665.5 104.5 666.9 105.1 668.1 106.0 669.0 107.3 669.6 108.7 669.8 110.3 669.5 112.1 668.9 118.6 666.5 121.2 665.9 125.2 665.3 133.5 664.8 145.8 664.4 160.0 664.3 229.0 664.6 240.0 664.4 259.3 663.9 280.6 663.2 304.4 662.1 320.5 661.1 364.2 658.1 378.1 657.4 390.3 657.0 405.7 656.7 437.8 656.4 532.4 655.1 565.6 654.8 581.7 654.4 621.0 652.9 640.0 652.3 664.1 651.8 718.0 650.9 722.5 650.9 729.5 651.0 756.1 652.1 762.4 652.1 766.2 652.0 769.6 651.7 772.5 651.2 774.8 650.5 776.5 649.6 777.7 647.4 777.8 644.7 778.5 642.5 779.9 641.4 781.8 640.5 784.0 639.8 796.0 636.4 800.0 635.5 805.9 634.6 856.0 628.8 M168.1 221.0L165.3 247.0 163.3 263.6 154.7 326.0 150.6 362.0 149.1 374.0 147.6 384.0 145.9 394.1 143.9 404.4 141.3 416.9 125.7 486.3 124.2 494.3 121.8 510.0 121.1 514.0 120.1 517.9 117.4 528.0 115.6 534.1 113.7 539.8 111.8 545.0 110.9 547.0 107.3 553.6 106.4 555.4 105.7 557.5 105.0 560.0 104.3 564.0 103.8 568.9 103.4 574.4 103.1 580.5 103.0 589.3 103.0 598.5 103.1 610.1 104.0 642.6 103.5 655.4 103.4 660.0 103.7 663.9 104.0 665.5 104.5 667.0 105.1 668.1 106.0 669.0 107.3 669.6 108.7 669.7 110.3 669.4 118.6 666.4 121.2 665.7 125.2 665.1 133.5 664.6 145.8 664.2 160.0 664.0 214.4 664.3 230.9 664.2 242.3 664.0 263.3 663.4 284.4 662.6 306.4 661.5 320.5 660.6 364.2 657.5 378.1 656.7 390.3 656.2 403.8 655.9 437.8 655.5 530.7 654.0 565.6 653.7 581.7 653.1 629.6 651.0 644.0 650.5 660.3 650.2 720.3 649.6 727.4 649.7 748.2 650.8 752.3 650.8 756.0 650.7 759.2 650.3 760.6 650.0 763.0 649.3 764.0 648.8 765.6 647.0 766.3 644.9 766.9 642.8 768.0 641.0 769.5 639.9 771.2 639.1 773.1 638.4 780.8 635.9 786.5 634.4 792.8 632.9 797.5 632.0 803.2 631.0 808.5 630.2 822.2 628.5 856.0 625.0 M177.5 221.0L172.4 247.0 170.0 260.0 167.6 274.9 163.0 305.6 160.7 320.0 156.5 344.0 152.1 368.0 148.2 388.0 144.8 404.4 126.7 486.3 125.2 494.2 123.1 507.9 122.0 513.9 119.6 524.2 117.4 533.0 115.6 539.4 113.7 545.2 111.8 550.0 110.7 552.0 109.5 553.4 107.0 556.1 105.9 557.7 105.0 560.0 104.7 561.1 103.9 565.0 103.3 569.8 103.0 575.4 102.7 581.6 102.6 588.3 102.7 597.6 102.9 607.1 104.0 640.0 104.0 645.2 103.5 655.4 103.4 660.0 103.7 663.9 104.0 665.5 104.5 667.0 105.1 668.1 106.0 669.0 107.3 669.6 108.7 669.7 110.3 669.4 118.6 666.3 121.2 665.5 125.2 664.9 133.5 664.3 145.8 663.9 160.0 663.8 214.4 663.9 230.9 663.9 242.3 663.7 265.3 663.0 286.4 662.2 306.4 661.1 320.5 660.2 364.2 656.8 376.1 656.1 388.3 655.6 403.8 655.2 435.6 654.7 527.2 652.9 542.5 652.6 565.6 652.5 580.0 651.9 621.7 649.7 640.0 649.0 656.7 648.6 688.9 648.4 721.9 648.0 729.9 647.8 735.3 647.5 740.0 647.0 745.0 646.2 749.2 645.2 751.0 644.7 752.5 644.0 754.4 642.6 756.0 641.0 758.4 637.6 760.0 636.0 761.8 635.1 764.0 634.3 771.0 632.5 778.5 629.7 782.4 628.5 786.2 627.7 790.3 627.0 806.5 624.6 819.9 623.0 856.0 619.0 M187.5 221.0L180.0 251.6 177.7 261.8 175.1 274.9 171.7 293.1 165.6 328.0 158.4 372.0 156.9 380.0 155.3 388.0 153.5 396.0 151.1 406.2 145.8 426.7 138.4 454.3 133.6 470.2 131.5 477.9 130.6 481.9 129.9 485.7 127.4 504.0 126.4 510.1 125.5 514.1 124.4 518.0 122.3 524.3 120.0 530.6 117.4 536.7 114.9 542.3 111.8 548.8 110.6 550.9 107.0 555.6 105.9 557.5 105.0 560.0 104.2 563.7 103.6 568.4 103.2 573.8 102.9 579.8 102.7 588.6 102.9 607.3 104.0 642.6 103.5 655.4 103.4 660.0 103.7 663.9 104.0 665.6 104.5 667.0 105.1 668.1 106.0 669.0 107.3 669.6 108.7 669.7 110.3 669.3 118.6 666.1 121.2 665.4 124.0 664.9 130.5 664.3 138.5 663.9 149.7 663.6 164.4 663.5 229.0 663.5 240.0 663.4 261.3 662.7 284.4 661.8 306.4 660.7 322.6 659.5 364.2 656.2 376.1 655.4 388.3 654.8 403.8 654.4 435.6 653.8 525.4 651.8 542.5 651.4 559.6 651.4 568.0 651.2 581.9 650.6 621.6 648.2 638.1 647.4 654.9 646.9 693.9 646.2 702.5 645.8 718.8 644.9 724.7 644.3 730.0 643.5 734.3 642.6 737.9 641.5 741.5 640.0 743.4 639.0 750.6 634.0 752.5 633.0 754.4 632.2 758.4 630.8 766.8 628.6 773.1 627.2 788.3 624.4 797.7 622.1 801.7 621.3 809.6 620.2 827.5 618.0 856.0 614.0" stroke-width="0.7"/>
<path d="M111.8 489V665.6999999999999" stroke="#0a0a14" stroke-width="1"/><path d="M111.3 665.9H300" stroke="#0b0c1c" stroke-width="1.8"/>
<path d="M684.6 418.7L697 425.5M845.6 492.5L856 497.7" stroke-width="1.2"/>
</g>
</g>
<text x="195.3" y="287.4" font-size="15.8" text-anchor="middle" fill="#141414" textLength="14.4" lengthAdjust="spacingAndGlyphs" stroke="#141414" stroke-width="0.9" stroke-linejoin="round">90</text>
<text x="168.75" y="472.59999999999997" font-size="15.8" text-anchor="middle" fill="#141414" textLength="14.4" lengthAdjust="spacingAndGlyphs" stroke="#141414" stroke-width="0.9" stroke-linejoin="round">92</text>
<text x="218" y="451.09999999999997" font-size="15.8" text-anchor="middle" fill="#141414" textLength="14.4" lengthAdjust="spacingAndGlyphs" stroke="#141414" stroke-width="0.9" stroke-linejoin="round">94</text>
<text x="387.2" y="414.65" font-size="15.8" text-anchor="middle" fill="#141414" textLength="14.4" lengthAdjust="spacingAndGlyphs" stroke="#141414" stroke-width="0.9" stroke-linejoin="round">96</text>
<text x="599.4" y="544.9" font-size="15.8" text-anchor="middle" fill="#141414" textLength="14.4" lengthAdjust="spacingAndGlyphs" stroke="#141414" stroke-width="0.9" stroke-linejoin="round">95</text>
<text x="654" y="601.1999999999999" font-size="15.8" text-anchor="middle" fill="#141414" textLength="14.4" lengthAdjust="spacingAndGlyphs" stroke="#141414" stroke-width="0.9" stroke-linejoin="round">93</text>
<text x="799.5" y="467.9" font-size="15.8" text-anchor="middle" fill="#141414" textLength="14.4" lengthAdjust="spacingAndGlyphs" stroke="#141414" stroke-width="0.9" stroke-linejoin="round">93</text>
<text x="498.5" y="649.1999999999999" font-size="15.8" text-anchor="middle" fill="#141414" textLength="14.4" lengthAdjust="spacingAndGlyphs" stroke="#141414" stroke-width="0.9" stroke-linejoin="round">92</text>
<text x="705.6" y="640.3" font-size="15.8" text-anchor="middle" fill="#141414" textLength="14.4" lengthAdjust="spacingAndGlyphs" stroke="#141414" stroke-width="0.9" stroke-linejoin="round">88</text>
<text x="777" y="625.3" font-size="15.8" text-anchor="middle" fill="#141414" textLength="14.4" lengthAdjust="spacingAndGlyphs" stroke="#141414" stroke-width="0.9" stroke-linejoin="round">87</text>
<text x="527" y="667.9" font-size="15.8" text-anchor="middle" fill="#10142e" textLength="14.4" lengthAdjust="spacingAndGlyphs" opacity="0.8" stroke="#10142e" stroke-width="0.9" stroke-linejoin="round">82</text>
<text x="257" y="674.9" font-size="15.8" text-anchor="middle" fill="#10142e" textLength="14.4" lengthAdjust="spacingAndGlyphs" opacity="0.45" stroke="#10142e" stroke-width="0.9" stroke-linejoin="round">83</text>
<text x="229.6" y="675.4" font-size="15.8" text-anchor="middle" fill="#10142e" textLength="14.4" lengthAdjust="spacingAndGlyphs" opacity="0.4" stroke="#10142e" stroke-width="0.9" stroke-linejoin="round">85</text>
<g stroke="#15151c" fill="none">
<path d="M88.9 222V674.1H854.5V493" stroke="#0c0c1a" stroke-opacity="0.38" stroke-width="1.6"/>
<rect x="87.1" y="221.05" width="769.35" height="454.9" stroke-width="2.5"/>
<path d="M197 676v-5.5M197 221v5.5 M307 676v-5.5M307 221v5.5 M417 676v-5.5M417 221v5.5 M527 676v-5.5M527 221v5.5 M637 676v-5.5M637 221v5.5 M747 676v-5.5M747 221v5.5 M87 581h4.5M856 581h-4.5 M87 490h4.5M856 490h-4.5 M87 398.5h4.5M856 398.5h-4.5 M87 307h4.5M856 307h-4.5" stroke-width="2.1"/>
</g>
<text x="197" y="697.0" font-size="16.2" text-anchor="middle" fill="#2f2f33" textLength="30.4" lengthAdjust="spacingAndGlyphs" stroke="#2f2f33" stroke-width="0.9" stroke-linejoin="round">2000</text>
<text x="307.3" y="697.0" font-size="16.2" text-anchor="middle" fill="#2f2f33" textLength="30.4" lengthAdjust="spacingAndGlyphs" stroke="#2f2f33" stroke-width="0.9" stroke-linejoin="round">4000</text>
<text x="417.4" y="697.0" font-size="16.2" text-anchor="middle" fill="#2f2f33" textLength="30.4" lengthAdjust="spacingAndGlyphs" stroke="#2f2f33" stroke-width="0.9" stroke-linejoin="round">6000</text>
<text x="527.4" y="697.0" font-size="16.2" text-anchor="middle" fill="#2f2f33" textLength="30.4" lengthAdjust="spacingAndGlyphs" stroke="#2f2f33" stroke-width="0.9" stroke-linejoin="round">8000</text>
<text x="637.5" y="697.0" font-size="16.2" text-anchor="middle" fill="#2f2f33" textLength="34.4" lengthAdjust="spacingAndGlyphs" stroke="#2f2f33" stroke-width="0.9" stroke-linejoin="round">10000</text>
<text x="748" y="697.0" font-size="16.2" text-anchor="middle" fill="#2f2f33" textLength="34.4" lengthAdjust="spacingAndGlyphs" stroke="#2f2f33" stroke-width="0.9" stroke-linejoin="round">12000</text>
<text x="858.2" y="697.0" font-size="16.2" text-anchor="middle" fill="#2f2f33" textLength="34.4" lengthAdjust="spacingAndGlyphs" stroke="#2f2f33" stroke-width="0.9" stroke-linejoin="round">14000</text>
<text x="82.3" y="682.6999999999999" font-size="16.2" text-anchor="end" fill="#2f2f33" textLength="7.6" lengthAdjust="spacingAndGlyphs" stroke="#2f2f33" stroke-width="0.9" stroke-linejoin="round">0</text>
<text x="82.3" y="589.9" font-size="16.2" text-anchor="end" fill="#2f2f33" textLength="15.2" lengthAdjust="spacingAndGlyphs" stroke="#2f2f33" stroke-width="0.9" stroke-linejoin="round">20</text>
<text x="82.3" y="497.5" font-size="16.2" text-anchor="end" fill="#2f2f33" textLength="15.2" lengthAdjust="spacingAndGlyphs" stroke="#2f2f33" stroke-width="0.9" stroke-linejoin="round">40</text>
<text x="82.3" y="406.7" font-size="16.2" text-anchor="end" fill="#2f2f33" textLength="15.2" lengthAdjust="spacingAndGlyphs" stroke="#2f2f33" stroke-width="0.9" stroke-linejoin="round">60</text>
<text x="82.3" y="314.59999999999997" font-size="16.2" text-anchor="end" fill="#2f2f33" textLength="15.2" lengthAdjust="spacingAndGlyphs" stroke="#2f2f33" stroke-width="0.9" stroke-linejoin="round">80</text>
<text x="466.2" y="732.8" font-size="18.2" text-anchor="middle" fill="#2f2f33" textLength="110.4" lengthAdjust="spacingAndGlyphs">Speed ( rpm )</text>
<text transform="translate(49.3 451.5) rotate(-90)" font-size="18.2" text-anchor="middle" fill="#2f2f33" textLength="158.3" lengthAdjust="spacingAndGlyphs">Shaft Torque ( Nm )</text>
<text transform="translate(987.5 449.6) rotate(-90)" font-size="18.2" text-anchor="middle" fill="#2f2f33" textLength="120.7" lengthAdjust="spacingAndGlyphs">Efficiency ( % )</text>
<rect x="885" y="221.70" width="21" height="33.10" fill="#962a2e"/>
<rect x="885" y="254.50" width="21" height="30.44" fill="#de332a"/>
<rect x="885" y="284.64" width="21" height="30.44" fill="#e25a32"/>
<rect x="885" y="314.79" width="21" height="30.44" fill="#eb8a36"/>
<rect x="885" y="344.93" width="21" height="30.44" fill="#ecc544"/>
<rect x="885" y="375.07" width="21" height="30.44" fill="#b8d053"/>
<rect x="885" y="405.21" width="21" height="30.44" fill="#93c366"/>
<rect x="885" y="435.36" width="21" height="30.44" fill="#7dc08b"/>
<rect x="885" y="465.50" width="21" height="30.44" fill="#62b6a9"/>
<rect x="885" y="495.64" width="21" height="30.44" fill="#2db0e3"/>
<rect x="885" y="525.79" width="21" height="30.44" fill="#3d79b9"/>
<rect x="885" y="555.93" width="21" height="30.44" fill="#2f5fab"/>
<rect x="885" y="586.07" width="21" height="30.44" fill="#2d52a0"/>
<rect x="885" y="616.21" width="21" height="30.44" fill="#2e3f86"/>
<rect x="885" y="646.36" width="21" height="30.44" fill="#2b3163"/>
<rect x="885.3" y="222" width="20.8" height="454.5" fill="none" stroke="#15151c" stroke-width="2"/>
<text x="917.2" y="258.9" font-size="16.2" text-anchor="start" fill="#2f2f33" textLength="33.2" lengthAdjust="spacingAndGlyphs" stroke="#2f2f33" stroke-width="0.9" stroke-linejoin="round">95.93</text>
<text x="917.2" y="319.0" font-size="16.2" text-anchor="start" fill="#2f2f33" textLength="31" lengthAdjust="spacingAndGlyphs" stroke="#2f2f33" stroke-width="0.9" stroke-linejoin="round">93.79</text>
<text x="917.2" y="379.6" font-size="16.2" text-anchor="start" fill="#2f2f33" textLength="29.7" lengthAdjust="spacingAndGlyphs" stroke="#2f2f33" stroke-width="0.9" stroke-linejoin="round">91.64</text>
<text x="917.2" y="439.8" font-size="16.2" text-anchor="start" fill="#2f2f33" textLength="33.2" lengthAdjust="spacingAndGlyphs" stroke="#2f2f33" stroke-width="0.9" stroke-linejoin="round">89.50</text>
<text x="917.2" y="500.2" font-size="16.2" text-anchor="start" fill="#2f2f33" textLength="32.2" lengthAdjust="spacingAndGlyphs" stroke="#2f2f33" stroke-width="0.9" stroke-linejoin="round">87.36</text>
<text x="917.2" y="560.7" font-size="16.2" text-anchor="start" fill="#2f2f33" textLength="31" lengthAdjust="spacingAndGlyphs" stroke="#2f2f33" stroke-width="0.9" stroke-linejoin="round">85.21</text>
<text x="917.2" y="620.5" font-size="16.2" text-anchor="start" fill="#2f2f33" textLength="32.6" lengthAdjust="spacingAndGlyphs" stroke="#2f2f33" stroke-width="0.9" stroke-linejoin="round">83.07</text>
<text x="917.2" y="680.8" font-size="16.2" text-anchor="start" fill="#2f2f33" textLength="25.8" lengthAdjust="spacingAndGlyphs" stroke="#2f2f33" stroke-width="0.9" stroke-linejoin="round">0.00</text>
<path d="M906 254.4h5 M906 314.5h5 M906 375.1h5 M906 435.3h5 M906 495.7h5 M906 556.2h5 M906 616h5 M906 676.3h5" stroke="#15151c" stroke-width="2"/>
<text y="799.4" font-size="36" fill="#1c1c1c" lengthAdjust="spacingAndGlyphs"><tspan x="244.5" textLength="64" lengthAdjust="spacingAndGlyphs">72V</tspan> <tspan x="320.3" textLength="122.3" lengthAdjust="spacingAndGlyphs">1050PA</tspan> <tspan x="454.2" textLength="160.6" lengthAdjust="spacingAndGlyphs">Efficiency</tspan> <tspan x="627.9" textLength="72.8" lengthAdjust="spacingAndGlyphs">Map</tspan></text>
</svg>
</body></html>
